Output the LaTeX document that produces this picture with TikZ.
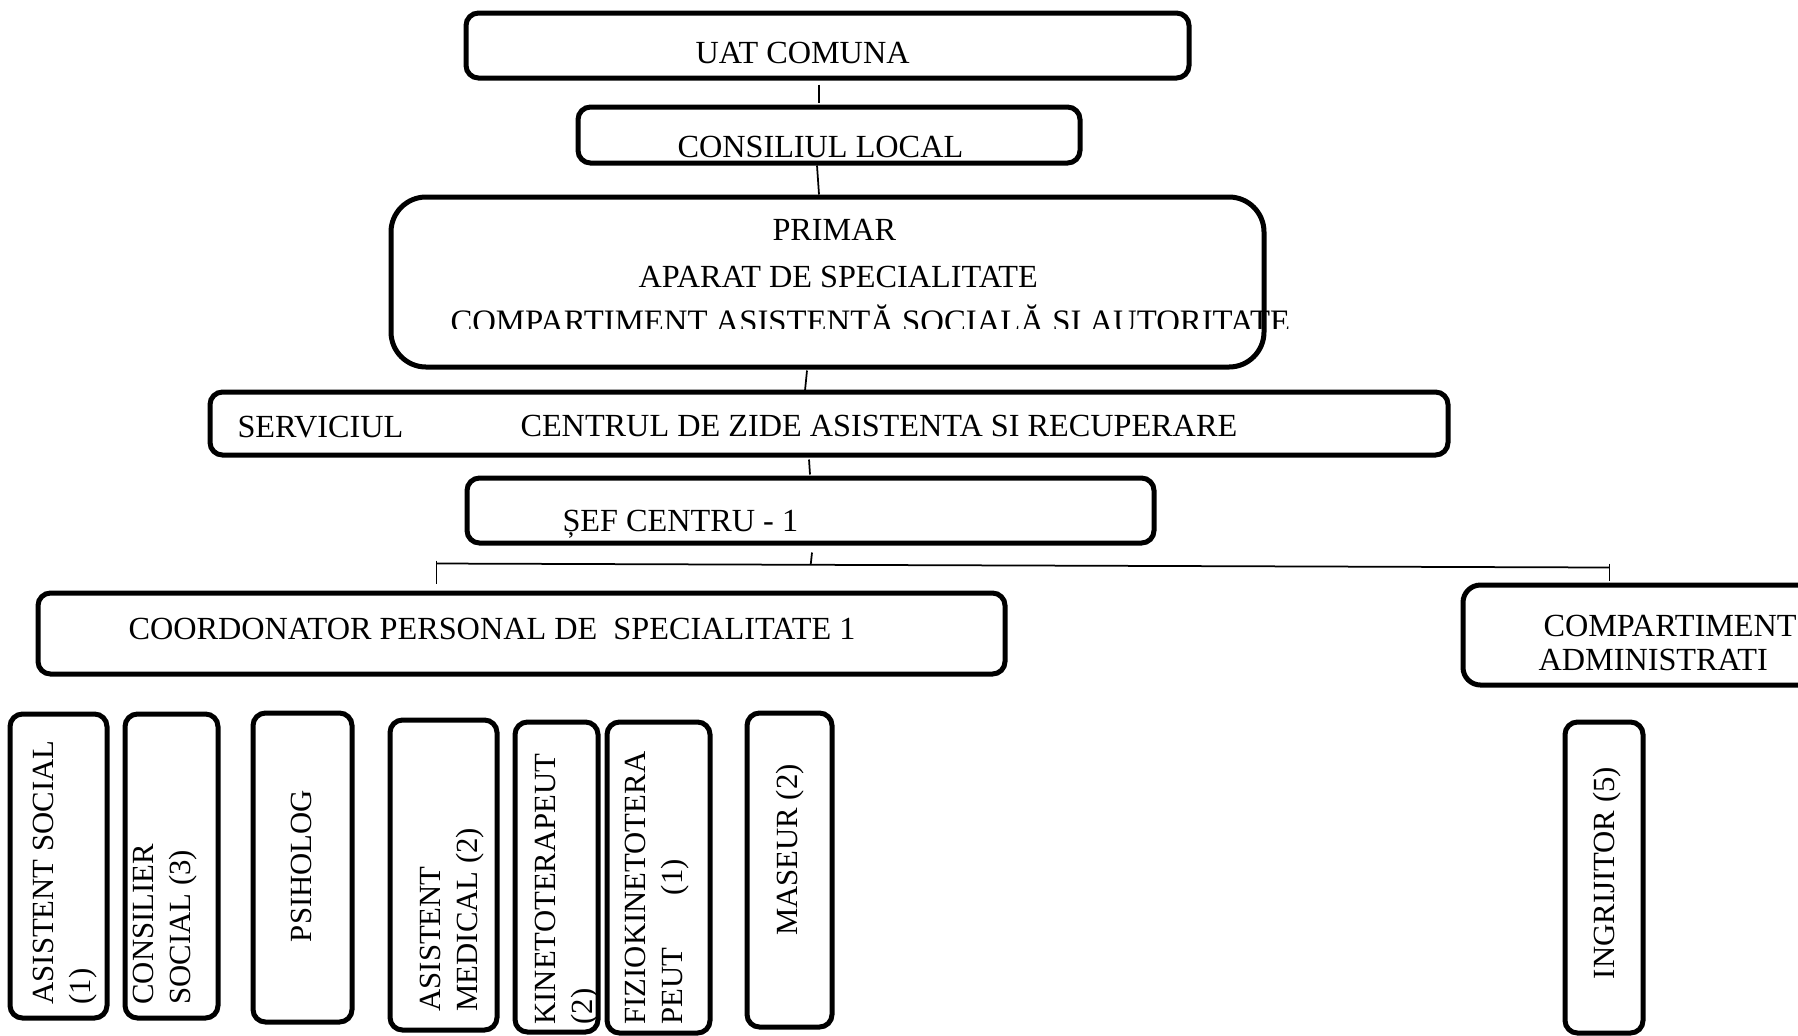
\documentclass[tikz,border=0pt]{standalone}
\usepackage{fontspec}
\setmainfont{Liberation Serif}
\tikzstyle{box}=[draw,line width=2pt,rounded corners=5pt,inner sep=0pt]
\tikzstyle{every node}+=[inner sep=0pt,font=\fontsize{12.9}{14.8}\selectfont]
\tikzstyle{vtext}=[rotate=90,align=left,anchor=north west,font=\fontsize{12.3}{14.8}\selectfont]
\tikzstyle{link}=[line width=0.7pt]
\usetikzlibrary{calc,fit,positioning}

\begin{document}
\begin{tikzpicture}[x=0.4pt,y=-0.4pt]
\useasboundingbox (0,0) rectangle (1798,1035);
\clip (0,0) rectangle (1798,1035);

% UAT / consiliu / primar
\node[box,fit={(466,13) (1189,78)}] (uat) {};
\node[anchor=base west] (uatT) at (695,63) {UAT COMUNA};
\node[box,fit={(578,107) (1080,163)}] (consiliu) {};
\node[anchor=base west] (consiliuT) at (677,157) {CONSILIUL LOCAL};
\node[box,rounded corners=14pt,fit={(391,197) (1264,367)}] (primar) {};
\node[anchor=base west] (primarT) at (772,240) {PRIMAR};
\node[anchor=base west] (aparatT) at (638,287) {APARAT DE SPECIALITATE};
\begin{scope}
\clip (440,295) rectangle (1300,328);
\node[anchor=base west,font=\fontsize{13.1}{14.8}\selectfont] (compasT) at (450,332) {COMPARTIMENT ASISTENTĂ SOCIALĂ SI AUTORITATE};
\end{scope}

% serviciu / sef centru
\node[box,fit={(210,392) (1448,455)}] (serviciu) {};
\node[anchor=base west] (serviciuT) at (237,437) {SERVICIUL};
\node[anchor=base west] (centruT) at (520,436) {CENTRUL DE ZIDE ASISTENTA SI RECUPERARE};
\node[box,fit={(467,478) (1154,543)}] (sef) {};
\node[anchor=base west] (sefT) at (562,531) {ȘEF CENTRU - 1};

% coordonator / compartiment administrativ
\node[box,fit={(38,593) (1005,674)}] (coord) {};
\node[anchor=base west] (coordT) at (128,639) {COORDONATOR PERSONAL DE\ \ SPECIALITATE 1};
\node[box,rounded corners=7pt,fit={(1463,585) (1860,685)}] (admin) {};
\node[anchor=base west] (adminA) at (1543,636) {COMPARTIMENT};
\node[anchor=base west] (adminB) at (1538,670) {ADMINISTRATI};

% personal
\foreach \n/\a/\b/\c/\d in {asist/10/714/107/1018, consil/125/714/218/1018,
  psiho/253/713/352/1022, medic/390/720/497/1030, kineto/515/722/598/1032,
  fizio/607/722/710/1033, maseur/747/713/832/1027, ingrij/1565/722/1643/1033}{
  \node[box,fit={(\a,\b) (\c,\d)}] (\n) {};
}
\node[vtext] (asistT) at (33,1005) {ASISTENT SOCIAL\\(1)};
\node[vtext] (consilT) at (133,1005) {CONSILIER\\SOCIAL (3)};
\node[vtext,anchor=center] (psihoT) at (301,866) {PSIHOLOG};
\node[vtext] (medicT) at (420,1012) {ASISTENT\\MEDICAL (2)};
\node[vtext] (kinetoT) at (535,1025) {KINETOTERAPEUT\\(2)};
\node[vtext] (fizioT) at (625,1025) {FIZIOKINETOTERA\\PEUT\hspace{21pt}(1)};
\node[vtext,anchor=center] (maseurT) at (790,850) {MASEUR (2)};
\node[vtext,anchor=center] (ingrijT) at (1607,873) {INGRIJITOR (5)};

% legaturi
\draw[link] ($(uat.south)+(-8.5,4)$) -- ($(consiliu.north)+(-10,-2)$);
\draw[link] ($(consiliu.south)+(-12,0)$) -- ($(primar.north)+(-8.5,0)$);
\draw[link] ($(primar.south)+(-20.5,1)$) -- ($(serviciu.north)+(-24,1)$);
\draw[link] ($(serviciu.south)+(-20,2)$) -- ($(sef.north)+(-0.5,-1)$);
\coordinate (busL) at ($(coord.north west)+(401,-27)$);
\coordinate (busR) at ($(admin.north west)+(149,-15)$);
\draw[link] (busL) -- (busR);
\draw[link] ($(sef.south)+(1.5,7)$) -- ($(busL)!0.319!(busR)$);
\draw[link] ($(busL)+(0,-3)$) -- ($(coord.north west)+(401,-7)$);
\draw[link] ($(busR)+(0,-4)$) -- ($(admin.north west)+(149,-2)$);
\end{tikzpicture}
\end{document}
